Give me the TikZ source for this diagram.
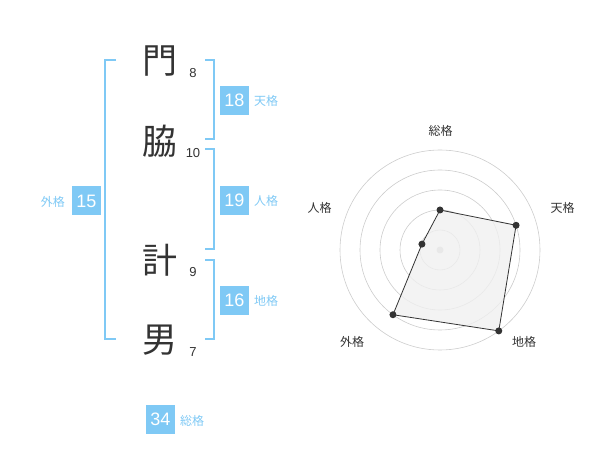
\documentclass[tikz,border=0pt]{standalone}
\usepackage{fontspec}
\usetikzlibrary{calc}
\setmainfont{Liberation Sans}
\newfontfamily\jpfont{Noto Sans CJK JP}
\definecolor{sky}{HTML}{7FC9F5}
\definecolor{ink}{HTML}{333333}
\definecolor{ring}{HTML}{CCCCCC}
\definecolor{area}{HTML}{F0F0F0}
\tikzset{
  kanji/.style={font=\jpfont\fontsize{35}{35}\selectfont, text=ink, inner sep=0pt},
  strokes/.style={font=\fontsize{13}{13}\selectfont, text=ink, inner sep=0pt},
  valbox/.style={fill=sky, text=white, minimum width=29pt, minimum height=29pt, inner sep=0pt, font=\fontsize{18}{18}\selectfont},
  vallabel/.style={text=sky, font=\jpfont\fontsize{12}{12}\selectfont, inner sep=0pt},
  bracket/.style={draw=sky, line width=2pt},
  axislabel/.style={text=ink, font=\jpfont\fontsize{12}{12}\selectfont, inner sep=0pt},
  dot/.style={circle, fill=ink, inner sep=0pt, minimum size=7pt},
}
\begin{document}
\begin{tikzpicture}[x=1pt,y=-1pt]
\path[use as bounding box] (0,0) rectangle (600,470);
% characters
\node[kanji] (c1) at (160,61) {門};
\node[kanji] (c2) at (160,141) {脇};
\node[kanji] (c3) at (160,260) {計};
\node[kanji] (c4) at (160,340) {男};
\node[strokes] (s1) at (193,73) {8};
\node[strokes] (s2) at (193,153) {10};
\node[strokes] (s3) at (193,272) {9};
\node[strokes] (s4) at (193,352) {7};
% brackets
\draw[bracket] (116,60) -- (105,60) -- (105,339) -- (116,339);
\draw[bracket] (205,60) -- (214,60) -- (214,139) -- (205,139);
\draw[bracket] (205,149) -- (214,149) -- (214,249) -- (205,249);
\draw[bracket] (205,260) -- (214,260) -- (214,339) -- (205,339);
% values
\node[valbox] (ten) at (234.5,100.5) {18};
\node[vallabel, anchor=west] (tenl) at (254,101) {天格};
\node[valbox] (jin) at (234.5,200.5) {19};
\node[vallabel, anchor=west] (jinl) at (254,201) {人格};
\node[valbox] (chi) at (234.5,300.5) {16};
\node[vallabel, anchor=west] (chil) at (254,301) {地格};
\node[valbox] (gai) at (86.5,201) {15};
\node[vallabel, anchor=east] (gail) at (65,202) {外格};
\node[valbox] (sou) at (160.5,419.5) {34};
\node[vallabel, anchor=west] (soul) at (180,421) {総格};
% radar
\coordinate (o) at (440,250);
\foreach \r in {20,40,60,80,100} \draw[ring, line width=0.6pt] (o) circle (\r);
\node[circle, fill=ring, inner sep=0pt, minimum size=7pt] (oc) at (o) {};
\coordinate (p1) at ($(o)+(-90:40)$);
\coordinate (p2) at ($(o)+(-18:80)$);
\coordinate (p3) at ($(o)+(54:100)$);
\coordinate (p4) at ($(o)+(126:80)$);
\coordinate (p5) at ($(o)+(198:19)$);
\draw[ink, fill=area, fill opacity=0.8, line width=0.8pt] (p1) -- (p2) -- (p3) -- (p4) -- (p5) -- cycle;
\foreach \i in {1,...,5} \node[dot] (d\i) at (p\i) {};
\node[axislabel] (a1) at (440.5,131) {総格};
\node[axislabel] (a2) at (562.5,208) {天格};
\node[axislabel] (a3) at (524,342) {地格};
\node[axislabel] (a4) at (352,342) {外格};
\node[axislabel] (a5) at (319.5,208) {人格};
\end{tikzpicture}
\end{document}
